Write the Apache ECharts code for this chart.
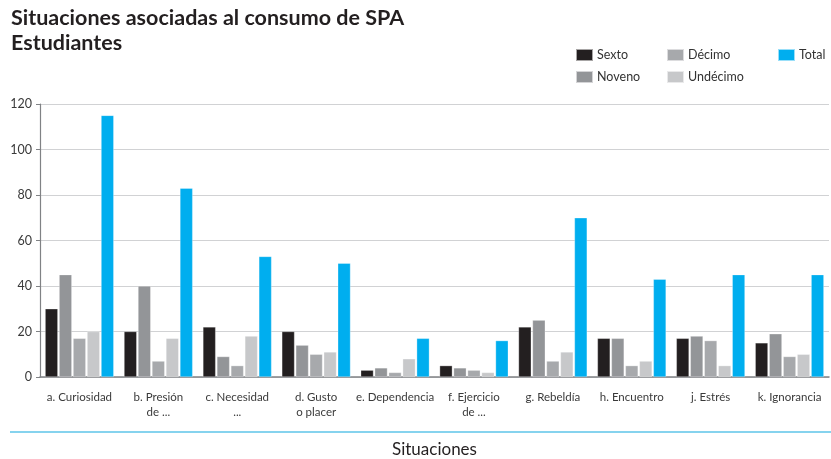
<!DOCTYPE html>
<html><head><meta charset="utf-8">
<script src="https://cdn.jsdelivr.net/npm/echarts@6/dist/echarts.min.js"></script>
<style>html,body{margin:0;padding:0;background:#fff}#c{width:831px;height:459px}</style>
</head><body><div id="c"></div>
<script>
const categories = ["a. Curiosidad","b. Presión\nde ...","c. Necesidad\n...","d. Gusto\no placer","e. Dependencia","f. Ejercicio\nde ...","g. Rebeldía","h. Encuentro","j. Estrés","k. Ignorancia"];
const sexto    = [30, 20, 22, 20, 3, 5, 22, 17, 17, 15];
const noveno   = [45, 40,  9, 14, 4, 4, 25, 17, 18, 19];
const decimo   = [17,  7,  5, 10, 2, 3,  7,  5, 16,  9];
const undecimo = [20, 17, 18, 11, 8, 2, 11,  7,  5, 10];
const total    = [115, 83, 53, 50, 17, 16, 70, 43, 45, 45];
const yTicks = [0, 20, 40, 60, 80, 100, 120];

const FONT = 'Lato';
const names = ['Sexto','Noveno','Décimo','Undécimo','Total'];
const colors = ['#231f20','#939598','#a7a9ac','#c7c8ca','#00aeef'];
const vals = [sexto, noveno, decimo, undecimo, total];

const chart = echarts.init(document.getElementById('c'));
const legendBase = {orient:'vertical', itemWidth:17, itemHeight:12, itemGap:8, icon:'rect',
  textStyle:{fontFamily:FONT, fontSize:12.5, color:'#333', padding:[0,0,0,-1]}};
chart.setOption({
  animation:false,
  textStyle:{fontFamily:FONT},
  title:{text:'Situaciones asociadas al consumo de SPA\nEstudiantes', left:6, top:1,
    textStyle:{fontFamily:FONT, fontWeight:'bold', fontSize:21.5, lineHeight:25, color:'#231f20'}},
  legend:[
    Object.assign({left:570, top:43, data:['Sexto','Noveno']}, legendBase),
    Object.assign({left:661, top:43, data:['Décimo','Undécimo']}, legendBase),
    Object.assign({left:772, top:43, data:['Total']}, legendBase)
  ],
  grid:{left:40, right:2, top:104, bottom:82, outerBoundsMode:'none'},
  xAxis:{type:'category', data:categories,
    axisLine:{lineStyle:{color:'#808285', width:1.5}},
    axisTick:{show:false},
    axisLabel:{interval:0, margin:13, fontFamily:FONT, fontSize:11.5, lineHeight:15, color:'#3a3a3a'},
    name:'Situaciones', nameLocation:'middle', nameGap:64,
    nameTextStyle:{fontFamily:FONT, fontSize:17, color:'#231f20'}
  },
  yAxis:{type:'value', min:0, max:120, interval:20,
    axisLine:{show:true, lineStyle:{color:'#808285', width:1.2}},
    axisTick:{show:true, length:4, lineStyle:{color:'#808285'}},
    axisLabel:{fontFamily:FONT, fontSize:12.5, color:'#3a3a3a', margin:8,
      formatter:v => yTicks.includes(v) ? String(v) : ''},
    splitLine:{lineStyle:{color:'#d1d2d4', width:1.2}}
  },
  graphic:[{type:'line', shape:{x1:10, y1:432, x2:831, y2:432}, style:{stroke:'#5ec4e8', lineWidth:1.5}}],
  series: names.map((n,i)=>({name:n, type:'bar', data:vals[i], barGap:'10%', barCategoryGap:'13%',
    itemStyle:{color:colors[i], borderColor:'rgba(255,255,255,0.6)', borderWidth:0.5}}))
});
</script></body></html>
